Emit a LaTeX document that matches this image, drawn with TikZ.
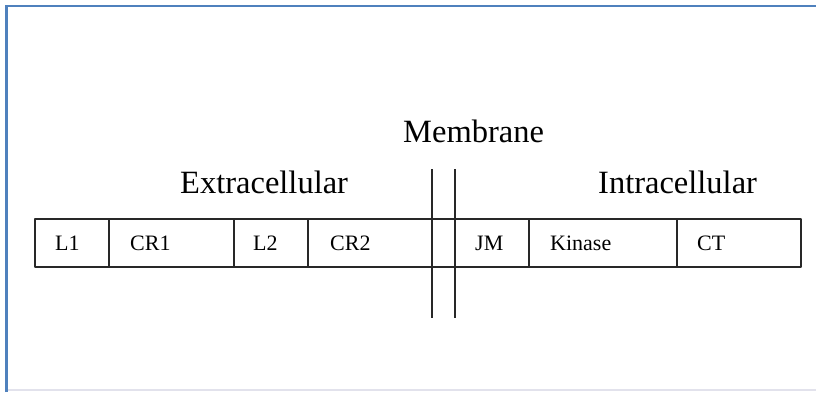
\documentclass[tikz,border=0pt]{standalone}
\usepackage{fontspec}
\setmainfont{Liberation Serif}
\definecolor{frameblue}{RGB}{79,129,189}
\definecolor{framegrey}{RGB}{226,226,236}
\definecolor{barline}{RGB}{40,40,40}
\begin{document}
\begin{tikzpicture}[x=1pt,y=-1pt,
  bar/.style={draw=barline,line width=2.3pt},
  seglabel/.style={anchor=base west,inner sep=0pt,font=\fontsize{22}{22}\selectfont},
  region/.style={anchor=base west,inner sep=0pt,font=\fontsize{32.5}{33}\selectfont}]
  \useasboundingbox (0,0) rectangle (816,392);
  % page frame
  \draw[framegrey,line width=1.5pt] (6,390) -- (816,390);
  \draw[frameblue,line width=2.5pt] (6.5,392) -- (6.5,6) -- (816,6);
  % domain bar
  \draw[bar,line join=round] (35,219) rectangle (801,267);
  \foreach \x in {109,234,308,529,677}
    \draw[bar] (\x,219) -- (\x,267);
  % membrane
  \coordinate (m1t) at (432,169); \coordinate (m1b) at (432,318);
  \coordinate (m2t) at (455,169); \coordinate (m2b) at (455,318);
  \draw[bar] (m1t) -- (m1b);
  \draw[bar] (m2t) -- (m2b);
  % domain labels
  \node[seglabel] (l1) at (55,250) {L1};
  \node[seglabel] (cr1) at (130,250) {CR1};
  \node[seglabel] (l2) at (253,250) {L2};
  \node[seglabel] (cr2) at (330,250) {CR2};
  \node[seglabel] (jm) at (475,250) {JM};
  \node[seglabel] (kin) at (550,250) {Kinase};
  \node[seglabel] (ct) at (697,250) {CT};
  % region labels
  \node[region] (mem) at (403,142) {Membrane};
  \node[region] (ext) at (180,193) {Extracellular};
  \node[region] (int) at (598,193) {Intracellular};
\end{tikzpicture}
\end{document}
